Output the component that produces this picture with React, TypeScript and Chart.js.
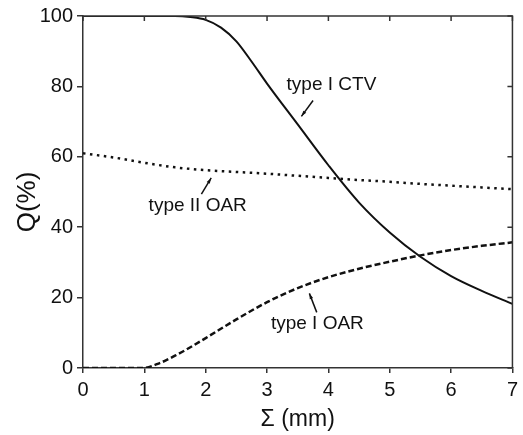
import React, { useEffect, useRef } from "react";
import { Chart, registerables } from "chart.js";

Chart.register(...registerables);

const ctvX = [0, 0.5, 1, 1.5, 1.75, 2, 2.25, 2.5, 2.75, 3, 3.5, 4, 4.5, 5, 5.5, 6, 6.5, 7];
const ctvY = [100, 100, 100, 100, 99.7, 98.9, 96.7, 92.8, 87.0, 80.8, 69.2, 57.6, 47.0, 38.5, 31.6, 26.1, 21.9, 18.2];

const oar1X = [0, 0.5, 0.97, 1.25, 1.5, 1.75, 2, 2.5, 3, 3.5, 4, 4.5, 5, 5.5, 6, 6.5, 7];
const oar1Y = [0, 0, 0, 1.4, 3.5, 5.9, 8.5, 13.8, 18.7, 22.7, 25.8, 28.2, 30.2, 32, 33.5, 34.7, 35.7];

const oar2X = [0, 0.5, 1, 1.5, 2, 2.5, 3, 3.5, 4, 4.5, 5, 5.5, 6, 6.5, 7];
const oar2Y = [61, 59.8, 58.3, 57, 56.2, 55.7, 55.2, 54.6, 54, 53.4, 52.9, 52.3, 51.8, 51.3, 50.8];

const xTicks = [0, 1, 2, 3, 4, 5, 6, 7];
const yTicks = [0, 20, 40, 60, 80, 100];

const xTitle = "Σ (mm)";
const yTitle = "Q(%)";

// annotations: label [x, y] and arrow from -> to, in data units
const labels = [
  { text: "type I CTV", at: [4.05, 80.5], from: [3.75, 76], to: [3.56, 71.5] },
  { text: "type II OAR", at: [1.87, 46], from: [1.93, 49.4], to: [2.09, 54] },
  { text: "type I OAR", at: [3.82, 12.7], from: [3.81, 15.8], to: [3.69, 21.2] },
];

const FONT = "'Liberation Sans', Arial, sans-serif";
const INK = "#111";

const pts = (xs: number[], ys: number[]) => xs.map((x, i) => ({ x, y: ys[i] }));

const framePlugin = {
  id: "frame",
  afterDraw(chart: any) {
    const { ctx, chartArea: a, scales } = chart;
    const xs = scales.x;
    const ys = scales.y;
    ctx.save();
    ctx.strokeStyle = "#333";
    ctx.lineWidth = 1.5;
    ctx.beginPath();
    ctx.moveTo(a.left, a.top);
    ctx.lineTo(a.right, a.top);
    ctx.lineTo(a.right, a.bottom);
    ctx.stroke();
    // inner ticks top and right
    ctx.beginPath();
    xTicks.forEach((t) => {
      const px = xs.getPixelForValue(t);
      ctx.moveTo(px, a.top);
      ctx.lineTo(px, a.top + 5);
    });
    yTicks.forEach((t) => {
      const py = ys.getPixelForValue(t);
      ctx.moveTo(a.right, py);
      ctx.lineTo(a.right - 5, py);
    });
    ctx.stroke();

    // titles
    ctx.fillStyle = INK;
    ctx.font = `23px ${FONT}`;
    ctx.textAlign = "center";
    ctx.textBaseline = "middle";
    ctx.fillText(xTitle, (a.left + a.right) / 2, 420);
    ctx.save();
    ctx.translate(28, 202);
    ctx.rotate(-Math.PI / 2);
    ctx.font = `26px ${FONT}`;
    ctx.fillText(yTitle, 0, 0);
    ctx.restore();

    // annotations
    ctx.font = `19px ${FONT}`;
    ctx.strokeStyle = INK;
    ctx.lineWidth = 1.5;
    labels.forEach((l) => {
      ctx.fillText(l.text, xs.getPixelForValue(l.at[0]), ys.getPixelForValue(l.at[1]));
      const x1 = xs.getPixelForValue(l.from[0]);
      const y1 = ys.getPixelForValue(l.from[1]);
      const x2 = xs.getPixelForValue(l.to[0]);
      const y2 = ys.getPixelForValue(l.to[1]);
      ctx.beginPath();
      ctx.moveTo(x1, y1);
      ctx.lineTo(x2, y2);
      ctx.stroke();
      const ang = Math.atan2(y2 - y1, x2 - x1);
      const h = 6;
      ctx.beginPath();
      ctx.moveTo(x2, y2);
      ctx.lineTo(x2 - h * Math.cos(ang - 0.3), y2 - h * Math.sin(ang - 0.3));
      ctx.lineTo(x2 - h * Math.cos(ang + 0.3), y2 - h * Math.sin(ang + 0.3));
      ctx.closePath();
      ctx.fill();
    });
    ctx.restore();
  },
};

export default function App() {
  const ref = useRef<HTMLCanvasElement>(null);
  useEffect(() => {
    if (!ref.current) return;
    const chart = new Chart(ref.current, {
      type: "line",
      data: {
        datasets: [
          {
            data: pts(ctvX, ctvY),
            borderColor: INK,
            borderWidth: 2,
            pointRadius: 0,
            cubicInterpolationMode: "monotone",
            fill: false,
          },
          {
            data: pts(oar1X, oar1Y),
            borderColor: INK,
            borderWidth: 2.5,
            borderDash: [6, 3],
            pointRadius: 0,
            cubicInterpolationMode: "monotone",
            fill: false,
          },
          {
            data: pts(oar2X, oar2Y),
            borderColor: INK,
            borderWidth: 2.5,
            borderDash: [2.5, 4.5],
            pointRadius: 0,
            cubicInterpolationMode: "monotone",
            fill: false,
          },
        ],
      },
      options: {
        animation: false,
        responsive: false,
        events: [],
        layout: { padding: { top: 14, right: 5, left: 0, bottom: 0 } },
        plugins: { legend: { display: false }, tooltip: { enabled: false } },
        scales: {
          x: {
            type: "linear",
            min: 0,
            max: 7,
            afterFit: (s: any) => {
              s.height = 67;
            },
            afterBuildTicks: (s: any) => {
              s.ticks = xTicks.map((v) => ({ value: v }));
            },
            ticks: {
              font: { family: FONT, size: 20 },
              color: INK,
              padding: 5,
              maxRotation: 0,
              autoSkip: false,
            },
            grid: { drawOnChartArea: false, drawTicks: true, tickLength: 5, color: "#333", lineWidth: 1.5 },
            border: { display: true, color: "#333", width: 1.5 },
          },
          y: {
            type: "linear",
            min: 0,
            max: 100,
            afterFit: (s: any) => {
              s.width = 83;
            },
            afterBuildTicks: (s: any) => {
              s.ticks = yTicks.map((v) => ({ value: v }));
            },
            ticks: {
              font: { family: FONT, size: 20 },
              color: INK,
              padding: 4,
              autoSkip: false,
            },
            grid: { drawOnChartArea: false, drawTicks: true, tickLength: 6, color: "#333", lineWidth: 1.5 },
            border: { display: true, color: "#333", width: 1.5 },
          },
        },
      },
      plugins: [framePlugin],
    });
    return () => chart.destroy();
  }, []);
  return (
    <div style={{ position: "fixed", left: 0, top: 0, width: 523, height: 435, background: "#fff" }}>
      <canvas ref={ref} width={523} height={435} style={{ display: "block" }} />
    </div>
  );
}
